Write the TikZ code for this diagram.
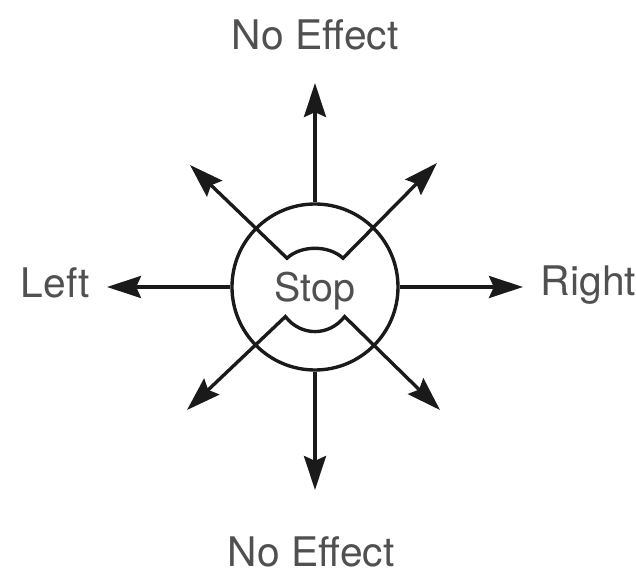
\documentclass[tikz,border=0pt]{standalone}
\usepackage{fontspec}
\setmainfont{TeX Gyre Heros}
\usetikzlibrary{arrows.meta}
\definecolor{lbltext}{HTML}{505050}
\definecolor{inkline}{HTML}{1A1A1A}
\tikzset{
  knob/.style={circle, draw=inkline, line width=2.4pt, minimum size=41.5mm, inner sep=0pt,
               font=\fontsize{28}{32}\selectfont, text=lbltext, text depth=0pt},
  lbl/.style={font=\fontsize{29}{33}\selectfont, text=lbltext, inner sep=0pt},
  dirarr/.style={-{Stealth[length=8.5mm, width=5.5mm, inset=1.2mm]}, line width=2.4pt, draw=inkline},
  cutarr/.style={{Stealth[length=8.5mm, width=5.5mm, inset=1.2mm]}-{Stealth[length=8.5mm, width=5.5mm, inset=1.2mm]},
                 line width=2.4pt, draw=inkline},
}

\begin{document}
\begin{tikzpicture}
  \useasboundingbox (-7.875,-7.175) rectangle (8.025,7.175);
  \node[knob] (stop) at (0,0) {Stop};
  % direction labels
  \node[lbl, anchor=base] (fwd) at (0,5.925) {No Effect};
  \node[lbl, anchor=base] (back) at (-0.1,-7.0) {No Effect};
  \node[lbl, anchor=base east] (left) at (-5.625,-0.275) {Left};
  \node[lbl, anchor=base west] (right) at (5.64,-0.22) {Right};
  % arrow tips
  \coordinate (tipN) at (0,5.1);
  \coordinate (tipS) at (0,-5.075);
  \coordinate (tipW) at (-5.2,0);
  \coordinate (tipE) at (5.2,0);
  \coordinate (tipNW) at (-3.125,3.05);
  \coordinate (tipNE) at (3.05,3.1);
  \coordinate (tipSW) at (-3.2,-3.075);
  \coordinate (tipSE) at (3.125,-3.075);
  % corners of the cut-outs inside the knob
  \coordinate (cutNW) at (-0.7,0.72);
  \coordinate (cutNE) at (0.7,0.72);
  \coordinate (cutSW) at (-0.74,-0.74);
  \coordinate (cutSE) at (0.74,-0.74);
  % straight arrows
  \draw[dirarr] (stop.north) -- (tipN);
  \draw[dirarr] (stop.south) -- (tipS);
  \draw[dirarr] (stop.west) -- (tipW);
  \draw[dirarr] (stop.east) -- (tipE);
  % diagonal arrows joined by the cut-outs
  \draw[cutarr] (tipNW) -- (cutNW) .. controls (-0.35,1.05) and (0.35,1.05) .. (cutNE) -- (tipNE);
  \draw[cutarr] (tipSW) -- (cutSW) .. controls (-0.35,-1.24) and (0.35,-1.24) .. (cutSE) -- (tipSE);
\end{tikzpicture}
\end{document}
